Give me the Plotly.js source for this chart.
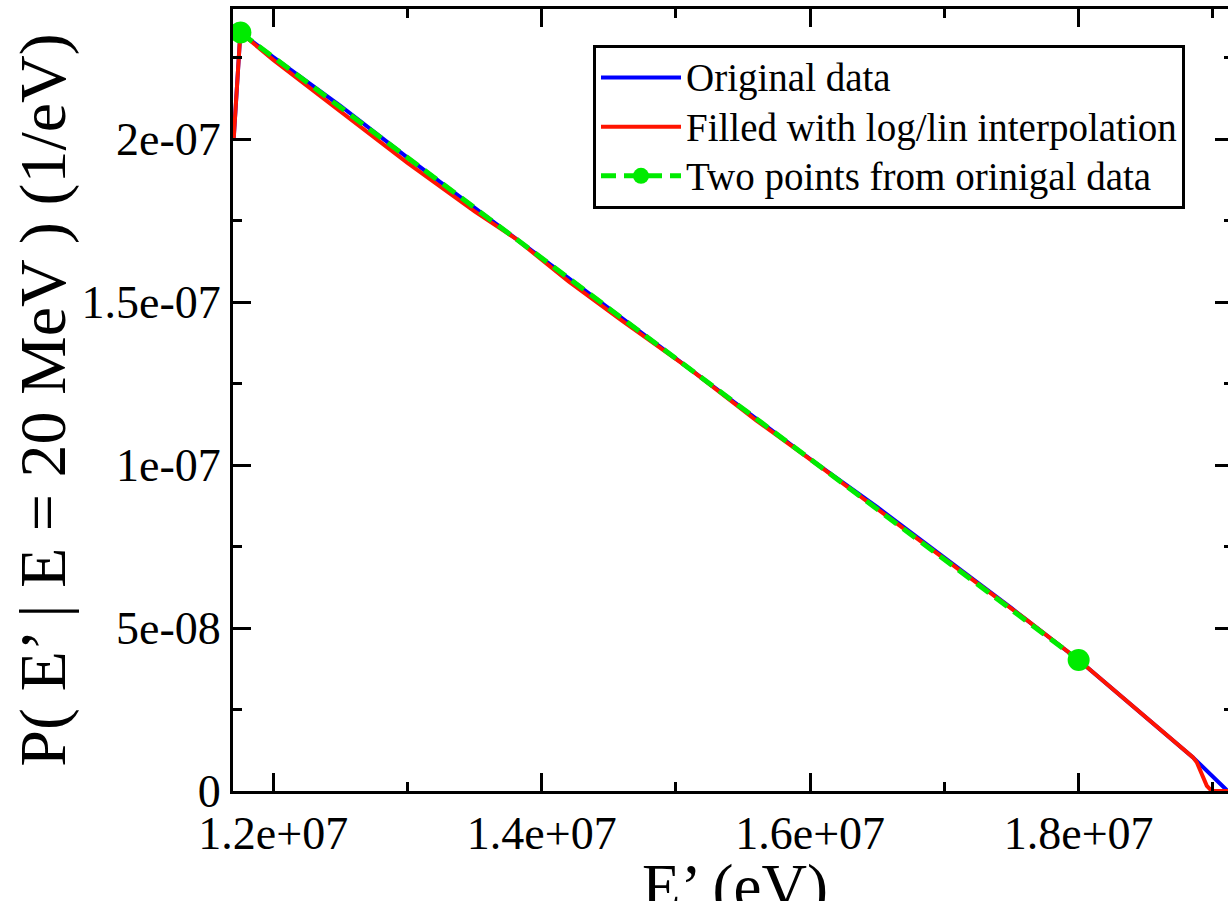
<!DOCTYPE html>
<html>
<head>
<meta charset="utf-8">
<script src="https://cdn.plot.ly/plotly-3.0.1.min.js"></script>
<style>
html,body{margin:0;padding:0;overflow:hidden;background:#fff;width:1228px;height:901px;}
#chart{width:1240px;height:960px;}
</style>
</head>
<body>
<div id="chart"></div>
<script>
// Original data (blue)
const origX = [1.1705e7, 1.1755e7, 1.2e7, 1.25e7, 1.3e7, 1.35e7, 1.4e7, 1.45e7, 1.5e7, 1.55e7, 1.6e7, 1.65e7, 1.7e7, 1.75e7, 1.8e7, 1.85e7, 1.885e7, 1.911e7];
const origY = [2.0e-7, 2.328e-7, 2.2524e-7, 2.103e-7, 1.944e-7, 1.790e-7, 1.636e-7, 1.4814e-7, 1.327e-7, 1.173e-7, 1.019e-7, 0.871e-7, 0.717e-7, 0.561e-7, 0.402e-7, 0.227e-7, 0.104e-7, 0];

// Filled with log/lin interpolation (red)
const fillX = [1.1705e7, 1.1755e7, 1.2e7, 1.25e7, 1.3e7, 1.35e7, 1.38e7, 1.42e7, 1.46e7, 1.51e7, 1.56e7, 1.61e7, 1.66e7, 1.71e7, 1.76e7, 1.8e7, 1.85e7, 1.885e7, 1.888e7, 1.8905e7, 1.893e7, 1.8955e7, 1.898e7, 1.9e7, 1.915e7];
const fillY = [2.0e-7, 2.328e-7, 2.244e-7, 2.086e-7, 1.928e-7, 1.779e-7, 1.697e-7, 1.564e-7, 1.443e-7, 1.2964e-7, 1.137e-7, 0.988e-7, 0.836e-7, 0.684e-7, 0.529e-7, 0.402e-7, 0.227e-7, 0.104e-7, 0.088e-7, 0.062e-7, 0.036e-7, 0.016e-7, 0.005e-7, 0.001e-7, 0];

// Two points from original data (green)
const twoX = [1.1755e7, 1.8e7];
const twoY = [2.328e-7, 0.402e-7];

// Tick labels
const xTickVals = [1.2e7, 1.4e7, 1.6e7, 1.8e7];
const xTickText = ["1.2e+07", "1.4e+07", "1.6e+07", "1.8e+07"];
const xMinorVals = [1.3e7, 1.5e7, 1.7e7, 1.9e7];
const yTickVals = [0, 5e-8, 1e-7, 1.5e-7, 2e-7];
const yTickText = ["0", "5e-08", "1e-07", "1.5e-07", "2e-07"];
const yMinorVals = [2.5e-8, 7.5e-8, 1.25e-7, 1.75e-7, 2.25e-7];

const serif = "Liberation Serif, Times New Roman, serif";
const big = s => '<span style="font-size:39px">' + s + '</span>';

const traces = [
  {x: origX, y: origY, mode: 'lines', name: big('Original data'),
   line: {color: 'rgb(0,0,255)', width: 4}},
  {x: fillX, y: fillY, mode: 'lines', name: big('Filled with log/lin interpolation'),
   line: {color: 'rgb(255,20,0)', width: 4}},
  {x: twoX, y: twoY, mode: 'lines+markers', name: big('Two points from orinigal data'),
   line: {color: 'rgb(0,235,0)', width: 5, dash: '15px,8px'},
   marker: {color: 'rgb(0,235,0)', size: 22}}
];

const axisCommon = {
  showline: true, mirror: 'ticks', linecolor: 'black', linewidth: 3,
  ticks: 'inside', ticklen: 18, tickwidth: 3, tickcolor: 'black',
  showgrid: false, zeroline: false, tickmode: 'array',
  tickfont: {family: serif, size: 46, color: 'black'}
};

const layout = {
  width: 1240, height: 960,
  margin: {l: 233, r: 7, t: 9, b: 169},
  paper_bgcolor: 'white', plot_bgcolor: 'white',
  showlegend: true,
  xaxis: Object.assign({}, axisCommon, {
    range: [1.17e7, 1.915e7],
    tickvals: xTickVals, ticktext: xTickText,
    minor: {tickmode: 'array', tickvals: xMinorVals, ticks: 'inside', ticklen: 9, tickwidth: 3, tickcolor: 'black', showgrid: false}
  }),
  yaxis: Object.assign({}, axisCommon, {
    range: [0, 2.4e-7],
    tickvals: yTickVals, ticktext: yTickText,
    minor: {tickmode: 'array', tickvals: yMinorVals, ticks: 'inside', ticklen: 9, tickwidth: 3, tickcolor: 'black', showgrid: false},
    title: {text: 'P( E’ | E = 20 MeV ) (1/eV)', font: {family: serif, size: 66, color: 'black'}}
  }),
  annotations: [{
    text: 'E’ (eV)', xref: 'paper', yref: 'paper', x: 0.502, y: -0.0754,
    xanchor: 'center', yanchor: 'top', showarrow: false,
    font: {family: serif, size: 63, color: 'black'}
  }],
  legend: {
    x: 0.36, y: 0.954, xanchor: 'left', yanchor: 'top',
    bgcolor: 'white', bordercolor: 'black', borderwidth: 3,
    font: {family: serif, size: 35.5, color: 'black'},
    itemwidth: 80, tracegroupgap: 0
  }
};

Plotly.newPlot('chart', traces, layout, {displayModeBar: false, staticPlot: true});
</script>
</body>
</html>
